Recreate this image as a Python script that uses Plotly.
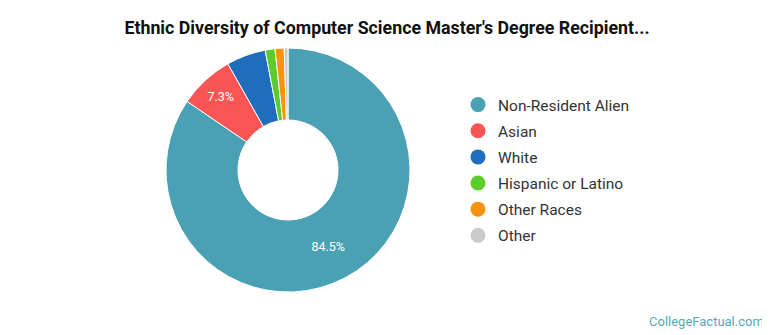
import plotly.graph_objects as go

labels = ["Non-Resident Alien", "Asian", "White", "Hispanic or Latino", "Other Races", "Other"]
values = [84.5, 7.3, 5.2, 1.3, 1.2, 0.5]
shown_text = ["84.5%", "7.3%", "", "", "", ""]
colors = ["#4aa1b4", "#fb5454", "#1f6ebd", "#5ccb2c", "#f8920f", "#cbcbcb"]
title = "Ethnic Diversity of Computer Science Master's Degree Recipient..."

# page body adds an 8px margin; work in figure coordinates
OFF = 8
W, H = 770 - OFF, 335 - OFF
cx, cy, R = 288 - OFF, 170 - OFF, 122

fig = go.Figure()
fig.add_trace(go.Pie(
    labels=labels, values=values, text=shown_text, textinfo="text",
    sort=False, direction="clockwise", rotation=0, hole=0.41,
    marker=dict(colors=colors, line=dict(color="white", width=1)),
    textfont=dict(color="white", size=12.5, family="Roboto"),
    insidetextorientation="horizontal", textposition="inside",
    showlegend=False, hoverinfo="label+percent",
    domain=dict(x=[(cx - R) / W, (cx + R) / W], y=[(H - cy - R) / H, (H - cy + R) / H]),
))

for i, (lab, col) in enumerate(zip(labels, colors)):
    fig.add_trace(go.Scatter(
        x=[None], y=[None], mode="markers", name=lab, legendgroup=f"g{i}",
        marker=dict(symbol="circle", size=15, color=col), showlegend=True,
    ))

fig.update_layout(
    width=W, height=H,
    margin=dict(l=0, r=0, t=0, b=0),
    paper_bgcolor="white", plot_bgcolor="white",
    title=dict(text=f"<b>{title}</b>", x=(387 - OFF) / W, xanchor="center", y=1 - (28 - OFF) / H,
               yanchor="middle", font=dict(family="Roboto", size=17.8, color="#111111")),
    xaxis=dict(visible=False), yaxis=dict(visible=False),
    legend=dict(x=(458 - OFF) / W, xanchor="left", y=1 - (88 - OFF) / H, yanchor="top",
                font=dict(family="Roboto", size=15.5, color="#333333"),
                tracegroupgap=3, itemwidth=30, bgcolor="rgba(0,0,0,0)"),
    annotations=[dict(text="CollegeFactual.com", x=(766 - OFF) / W, y=1 - (321 - OFF) / H,
                      xref="paper", yref="paper", xanchor="right", yanchor="middle", showarrow=False,
                      font=dict(family="Roboto", size=13, color="#5aa7bb"))],
)

fig.write_html("out.html")
